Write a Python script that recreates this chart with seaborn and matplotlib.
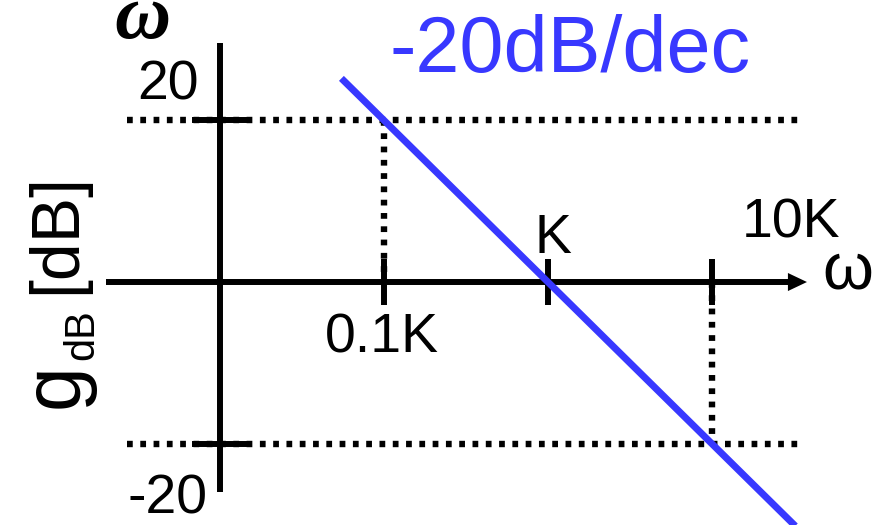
import matplotlib
matplotlib.use("Agg")
import matplotlib.pyplot as plt
import pandas as pd
import seaborn as sns

# Asymptotic Bode magnitude of an integrator-like term, omega in units of K
omega_ticks = [0.1, 1.0, 10.0]
omega_tick_labels = ["0.1K", "K", "10K"]
gain_ticks = [20, -20]
gain_tick_labels = ["20", "-20"]

slope_omega = [0.055, 37.0]
slope_gain = [25.2, -31.4]
slope_label = "-20dB/dec"

sns.set_theme(style="white")
plt.rcParams["font.family"] = ["Liberation Sans", "DejaVu Sans"]

W, H, DPI = 881, 525, 100
fig = plt.figure(figsize=(W / DPI, H / DPI), dpi=DPI)
ax = fig.add_axes([0, 0, 1, 1])
ax.set_xscale("log")
XLIM = (10 ** -3.3415, 10 ** 2.0305)
YLIM = (-30.07, 34.90)
ax.set_xlim(*XLIM)
ax.set_ylim(*YLIM)
ax.axis("off")


def dec(d):
    return 10.0 ** d


BLUE = "#3838FF"
axis_kw = dict(color="black", lw=4.3, solid_capstyle="butt")
guide_kw = dict(color="black", lw=4.6, linestyle=(0, (0.9, 1.18)),
                dash_capstyle="butt")

# dotted guide lines at +/-20 dB and down/up to the decade marks
for g in gain_ticks:
    ax.plot([dec(-2.567), dec(1.549)], [g, g], **guide_kw)
ax.plot([omega_ticks[0]] * 2, [gain_ticks[0], 0], **guide_kw)
ax.plot([omega_ticks[2]] * 2, [0, gain_ticks[1]], **guide_kw)

# axes drawn as a cross, vertical one at 0.01K
y_axis_omega = 0.01
ax.plot([y_axis_omega] * 2, [29.58, -25.99], **axis_kw)
ax.plot([dec(-2.695), dec(1.47)], [0, 0], **axis_kw)
ax.annotate("", xy=(dec(1.579), 0), xytext=(dec(1.45), 0),
            arrowprops=dict(arrowstyle="-|>,head_length=1.37,head_width=0.65",
                            mutation_scale=10, lw=0, fc="black", ec="black",
                            shrinkA=0, shrinkB=0))

# tick marks
for g in gain_ticks:
    ax.plot([dec(-2.171), dec(-1.835)], [g, g], **axis_kw)
for w in omega_ticks:
    ax.plot([w, w], [2.85, -2.85], **axis_kw)

# the -20 dB/decade asymptote
df = pd.DataFrame({"omega": slope_omega, "gain": slope_gain})
sns.lineplot(data=df, x="omega", y="gain", ax=ax, color=BLUE, lw=5,
             estimator=None, sort=False, solid_capstyle="butt")

# tick labels
lab_kw = dict(fontsize=40, color="black", ha="center", va="baseline",
              textcoords="offset pixels")
omega_offsets = [(-2.5, -70), (5, 29), (79.5, 45)]
for w, lab, off in zip(omega_ticks, omega_tick_labels, omega_offsets):
    ax.annotate(lab, xy=(w, 0), xytext=off, **lab_kw)
gain_offsets = [(-52, 21), (-52.5, -70)]
for g, lab, off in zip(gain_ticks, gain_tick_labels, gain_offsets):
    ax.annotate(lab, xy=(y_axis_omega, g), xytext=off, **lab_kw)

ax.text(dec(0.134), 26.0, slope_label, fontsize=57, color=BLUE,
        ha="center", va="baseline")

# axis names
ax.text(dec(1.829), -0.85, "ω", fontsize=47, ha="center", va="baseline",
        color="black")
ax.text(dec(-2.47), 30.2, "ω", fontsize=56, ha="center", va="baseline",
        family=["Liberation Serif", "DejaVu Serif"], fontweight="bold",
        fontstyle="italic", color="black")


def px_text(x, y, s, size):
    fig.text(x / W, 1 - y / H, s, fontsize=size, rotation=90,
             rotation_mode="anchor", ha="left", va="baseline", color="black")


px_text(78, 408, "g", 58)
px_text(93, 360, "dB", 30)
px_text(75, 294, "[dB]", 49)

ax.set_xlim(*XLIM)
ax.set_ylim(*YLIM)
fig.savefig("out.png", dpi=DPI, facecolor="white")
